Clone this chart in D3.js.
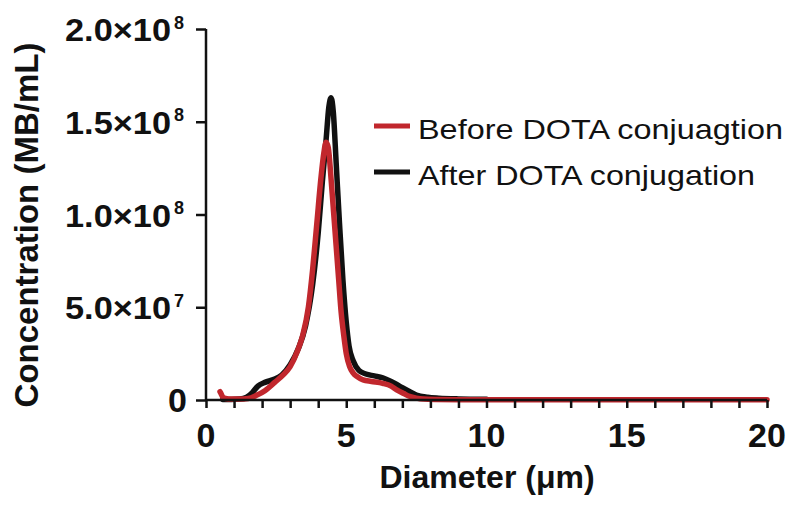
<!DOCTYPE html>
<html><head><meta charset="utf-8">
<script src="https://cdn.jsdelivr.net/npm/d3@7"></script>
<style>body{margin:0;background:#fff}svg{display:block}</style>
</head><body><svg id="c" width="798" height="507"></svg>
<script>
// Data (concentration in units of 1e6 MB/mL)
const beforeX = [0.5,0.55,0.6,0.7,0.9,1.2,1.5,1.8,2.1,2.45,2.75,3.0,3.25,3.45,3.65,3.8,3.95,4.1,4.2,4.28,4.36,4.46,4.55,4.64,4.73,4.82,4.91,5.0,5.12,5.25,5.4,5.6,5.9,6.3,6.6,6.8,7.05,7.25,7.5,7.75,8.2,9,10,12,15,20];
const beforeY = [4.5,3,1.5,0.8,0.5,0.5,0.8,2.5,5,9.5,13.5,18,26,35,50,70,95,120,133,139,136,119,101,83,65,47,35,25,18,14.5,12.5,10.8,10,9,7.5,5.5,3.5,2,1,0.5,0.3,0.2,0.2,0.2,0.2,0.2];
const afterX = [0.6,0.9,1.2,1.45,1.65,1.85,2.1,2.4,2.7,3.0,3.3,3.55,3.8,4.0,4.15,4.28,4.38,4.46,4.54,4.64,4.76,4.88,5.0,5.1,5.25,5.45,5.7,6.0,6.3,6.6,6.9,7.2,7.5,7.9,8.3,9.0,10.0];
const afterY = [0.3,0.3,0.5,1.5,4,7.5,9.5,11,13.5,19,28,40,62,90,118,140,158,163,155,128,95,65,42,29,21,16,14,13,12,10,7.5,5,2.7,1.5,1,0.6,0.4];
const seriesNames = ["Before DOTA conjuagtion","After DOTA conjugation"];
const xTicks = [0,5,10,15,20];
const xMinorTicks = d3.range(0,21,1);
const yTicks = [0,5e7,1e8,1.5e8,2e8];
const yTickMant = ["0","5.0×10","1.0×10","1.5×10","2.0×10"];
const yTickExp = ["","7","8","8","8"];

const svg = d3.select("#c");
const x = d3.scaleLinear().domain([0,20]).range([206,767]);
const y = d3.scaleLinear().domain([0,2e8]).range([400,29]);
const F = "Arial, 'Liberation Sans', Helvetica, sans-serif";

// curves
const line = d3.line().x(d=>x(d[0])).y(d=>y(d[1]*1e6)).curve(d3.curveMonotoneX);
const after = afterX.map((v,i)=>[v,afterY[i]]);
const before = beforeX.map((v,i)=>[v,beforeY[i]]);
svg.append("path").attr("d",line(after)).attr("fill","none").attr("stroke","#111").attr("stroke-width",5.5).attr("stroke-linejoin","round").attr("stroke-linecap","round");
svg.append("path").attr("d",line(before)).attr("fill","none").attr("stroke","#c1272d").attr("stroke-width",5.5).attr("stroke-linejoin","round").attr("stroke-linecap","round");

// x axis
const xa = svg.append("g").attr("transform","translate(0,400)")
  .call(d3.axisBottom(x).tickValues(xMinorTicks).tickSize(8).tickFormat(""));
xa.select(".domain").attr("stroke","#111").attr("stroke-width",2.5).attr("d","M206,0H767");
xa.selectAll(".tick line").attr("stroke","#111").attr("stroke-width",2.5);
svg.append("g").selectAll("text").data(xTicks).join("text")
  .attr("x",d=>x(d)).attr("y",447).attr("text-anchor","middle")
  .attr("font-family",F).attr("font-weight","bold").attr("font-size",34).attr("fill","#111")
  .text(d=>d);

// y axis
const ya = svg.append("g").attr("transform","translate(206,0)")
  .call(d3.axisLeft(y).tickValues(yTicks).tickSize(10).tickFormat(""));
ya.select(".domain").attr("stroke","#111").attr("stroke-width",2.5).attr("d","M0,401V29");
ya.selectAll(".tick line").attr("stroke","#111").attr("stroke-width",2.5);
const yl = svg.append("g").selectAll("text").data(yTicks).join("text")
  .attr("font-family",F).attr("font-weight","bold").attr("fill","#111");
yl.each(function(d,i){
  const t = d3.select(this);
  if(i===0){
    t.attr("x",187).attr("y",y(d)+12).attr("text-anchor","end").attr("font-size",34).text(yTickMant[i]);
  } else {
    t.append("tspan").attr("x",65).attr("y",y(d)+12).attr("font-size",31)
      .attr("textLength",106).attr("lengthAdjust","spacingAndGlyphs").text(yTickMant[i]);
    t.append("tspan").attr("x",174).attr("y",y(d)-0.5).attr("font-size",18).text(yTickExp[i]);
  }
});

// axis titles
svg.append("text").attr("x",487).attr("y",488).attr("text-anchor","middle")
  .attr("font-family",F).attr("font-weight","bold").attr("font-size",32).attr("fill","#111")
  .text("Diameter (μm)");
svg.append("text").attr("transform","translate(38,225) rotate(-90)").attr("text-anchor","middle")
  .attr("font-family",F).attr("font-weight","bold").attr("font-size",33).attr("fill","#111")
  .text("Concentration (MB/mL)");

// legend
const colors = ["#c1272d","#111"];
const lg = svg.append("g");
seriesNames.forEach((n,i)=>{
  const by = 139 + i*46;
  lg.append("line").attr("x1",374).attr("x2",410).attr("y1",by-13).attr("y2",by-13)
    .attr("stroke",colors[i]).attr("stroke-width",5);
  lg.append("text").attr("x",418).attr("y",by).attr("font-family",F).attr("font-size",28).attr("fill","#111")
    .attr("textLength", i===0?365:337).attr("lengthAdjust","spacingAndGlyphs").text(n);
});
</script></body></html>
